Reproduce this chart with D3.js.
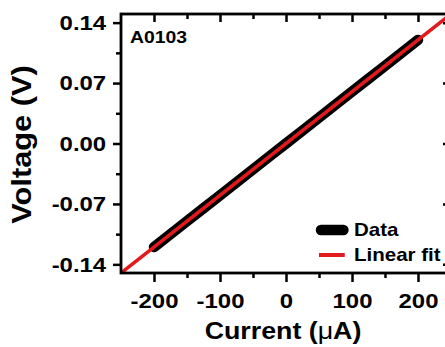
<!DOCTYPE html>
<html>
<head>
<meta charset="utf-8">
<script src="https://cdn.jsdelivr.net/npm/d3@7/dist/d3.min.js"></script>
<style>
  html, body { margin: 0; padding: 0; background: #fff; }
  svg { display: block; }
  text { font-family: "Liberation Sans", Arial, sans-serif; font-weight: bold; fill: #000; }
</style>
</head>
<body>
<svg id="chart" width="445" height="347"></svg>
<script>
// Measured I-V sweep of sample A0103 (current in µA, voltage in V)
const currentUA = [-200, -175, -150, -125, -100, -75, -50, -25, 0, 25, 50, 75, 100, 125, 150, 175, 200];
const voltageV  = [-0.120, -0.105, -0.090, -0.075, -0.060, -0.045, -0.030, -0.015, 0.000,
                    0.015, 0.030, 0.045, 0.060, 0.075, 0.090, 0.105, 0.120];

// Linear fit parameters (V = slope * I + intercept)
const fitSlope = 0.0006;
const fitIntercept = 0.0;

const xTicks = [-200, -100, 0, 100, 200];
const xMinorTicks = [-150, -50, 50, 150];
const yTicks = [-0.14, -0.07, 0.00, 0.07, 0.14];
const yMinorTicks = [-0.105, -0.035, 0.035, 0.105];
const xDomain = [-250, 250];
const yDomain = [-0.15, 0.15];

const sampleLabel = "A0103";
const legendLabels = ["Data", "Linear fit"];

const SX = 1.14; // horizontal glyph stretch

const svg = d3.select("#chart");
const mLeft = 121, mRight = 451, mTop = 14, mBottom = 273;

const x = d3.scaleLinear().domain(xDomain).range([mLeft, mRight]);
const y = d3.scaleLinear().domain(yDomain).range([mBottom, mTop]);

const RED = "#e3191c";

// plain hyphen for negative numbers
const locale = d3.formatLocale({ decimal: ".", thousands: ",", grouping: [3], currency: ["", ""], minus: "-" });

// plot clip
svg.append("defs").append("clipPath").attr("id", "plotClip")
  .append("rect").attr("x", mLeft).attr("y", mTop).attr("width", mRight - mLeft).attr("height", mBottom - mTop);

const plot = svg.append("g").attr("clip-path", "url(#plotClip)");

// data trace (thick black)
plot.append("path")
  .datum(currentUA.map((c, i) => [c, voltageV[i]]))
  .attr("d", d3.line().x(d => x(d[0])).y(d => y(d[1])))
  .attr("fill", "none").attr("stroke", "#000").attr("stroke-width", 10.5)
  .attr("stroke-linecap", "round").attr("stroke-linejoin", "round");

// fit line across the whole x range
plot.append("path")
  .datum(xDomain.map(c => [c, fitSlope * c + fitIntercept]))
  .attr("d", d3.line().x(d => x(d[0])).y(d => y(d[1])))
  .attr("fill", "none").attr("stroke", RED).attr("stroke-width", 3.5);

// axes
function styleAxis(g) {
  g.select(".domain").remove();
  g.selectAll(".tick line").attr("stroke", "#000").attr("stroke-width", 2.5);
}

// bottom major
const gx = svg.append("g").attr("transform", `translate(0,${mBottom})`)
  .call(d3.axisBottom(x).tickValues(xTicks).tickSize(9).tickPadding(11).tickFormat(locale.format("d")));
styleAxis(gx);
gx.selectAll(".tick text").attr("font-size", 21).attr("font-family", null)
  .attr("transform", `scale(${SX},1)`);
svg.append("g").attr("transform", `translate(0,${mBottom})`)
  .call(d3.axisBottom(x).tickValues(xMinorTicks).tickSize(5).tickFormat(""))
  .call(styleAxis);

// top (inward)
svg.append("g").attr("transform", `translate(0,${mTop})`)
  .call(d3.axisTop(x).tickValues(xTicks).tickSize(-8).tickFormat("")).call(styleAxis);
svg.append("g").attr("transform", `translate(0,${mTop})`)
  .call(d3.axisTop(x).tickValues(xMinorTicks).tickSize(-5).tickFormat("")).call(styleAxis);

// left major
const gy = svg.append("g").attr("transform", `translate(${mLeft},0)`)
  .call(d3.axisLeft(y).tickValues(yTicks).tickSize(8).tickPadding(5).tickFormat(locale.format(".2f")));
styleAxis(gy);
gy.selectAll(".tick text").attr("font-size", 21).attr("font-family", null)
  .attr("transform", `scale(${SX},1)`);
svg.append("g").attr("transform", `translate(${mLeft},0)`)
  .call(d3.axisLeft(y).tickValues(yMinorTicks).tickSize(5).tickFormat("")).call(styleAxis);

// right (inward)
svg.append("g").attr("transform", `translate(${mRight},0)`)
  .call(d3.axisRight(y).tickValues(yTicks).tickSize(-8).tickFormat("")).call(styleAxis);
svg.append("g").attr("transform", `translate(${mRight},0)`)
  .call(d3.axisRight(y).tickValues(yMinorTicks).tickSize(-5).tickFormat("")).call(styleAxis);

// frame
svg.append("rect").attr("x", mLeft).attr("y", mTop).attr("width", mRight - mLeft).attr("height", mBottom - mTop)
  .attr("fill", "none").attr("stroke", "#000").attr("stroke-width", 2.8);

// axis titles
const xt = svg.append("text")
  .attr("transform", `translate(${(mLeft + mRight) / 2 - 3},339) scale(${SX},1)`)
  .attr("text-anchor", "middle").attr("font-size", 23.5);
xt.append("tspan").text("Current (");
xt.append("tspan").attr("font-weight", "normal").text("\u03bc");
xt.append("tspan").text("A)");

svg.append("text")
  .attr("transform", `translate(31,${(mTop + mBottom) / 2 + 1}) rotate(-90) scale(${SX},1)`)
  .attr("text-anchor", "middle").attr("font-size", 27)
  .text("Voltage (V)");

// sample label
svg.append("text")
  .attr("transform", `translate(130,43) scale(${SX},1)`)
  .attr("font-size", 17).text(sampleLabel);

// legend
const lg = svg.append("g");
lg.append("line").attr("x1", x(53)).attr("x2", x(87)).attr("y1", 230).attr("y2", 230)
  .attr("stroke", "#000").attr("stroke-width", 10.5).attr("stroke-linecap", "round");
lg.append("line").attr("x1", x(50)).attr("x2", x(89)).attr("y1", 255).attr("y2", 255)
  .attr("stroke", RED).attr("stroke-width", 4);
lg.selectAll("text.leg").data(legendLabels).enter().append("text")
  .attr("class", "leg")
  .attr("transform", (d, i) => `translate(354,${236 + i * 25}) scale(${SX},1)`)
  .attr("font-size", 18).text(d => d);
</script>
</body>
</html>
